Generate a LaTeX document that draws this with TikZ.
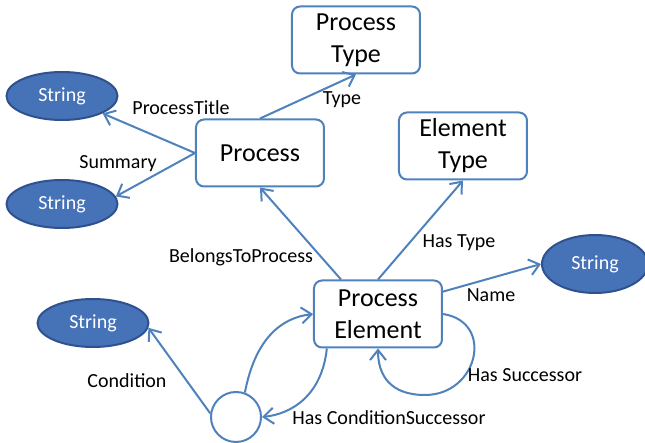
\documentclass[tikz,border=0pt]{standalone}
\usepackage{fontspec}
\setmainfont{Carlito}
\usetikzlibrary{arrows.meta,shapes.geometric}
\definecolor{linkblue}{RGB}{79,129,189}
\definecolor{strfill}{RGB}{70,114,184}
\definecolor{strdraw}{RGB}{47,82,143}

\begin{document}
\begin{tikzpicture}[x=0.5pt, y=-0.5pt, line width=1pt,
   arr/.style={draw=linkblue, -{Straight Barb[length=5pt,width=8pt]}},
   cls/.style={draw=linkblue, rounded corners=4pt, align=center, minimum width=64pt, minimum height=33.5pt, inner sep=1pt, font=\fontsize{13}{16}\selectfont},
   lit/.style={ellipse, draw=strdraw, fill=strfill, text=white, minimum width=55.5pt, minimum height=24pt, inner sep=0pt, font=\fontsize{10}{12}\selectfont},
   lbl/.style={font=\fontsize{10}{12}\selectfont, inner sep=1pt}]
   \useasboundingbox (0,0) rectangle (645,443);
   \node[cls] (ptype) at (356,40) {Process\\Type};
   \node[cls] (etype) at (463,146) {Element\\Type};
   \node[cls] (proc) at (260,153) {Process};
   \node[cls] (pe) at (378,314) {Process\\Element};
   \node[lit] (str1) at (62,96) {String};
   \node[lit] (str2) at (62,204) {String};
   \node[lit, minimum width=53pt, minimum height=29pt] (str3) at (595,264) {String};
   \node[lit] (str4) at (93,323) {String};
   \node[circle, draw=linkblue, minimum size=25pt, inner sep=0pt] (cond) at (236,417) {};
   \draw[arr] (proc.north) -- (ptype.south);
   \draw[arr] (proc.west) -- (str1);
   \draw[arr] (proc.west) -- (str2.8);
   \draw[arr] (pe.137) -- (proc.south);
   \draw[arr] (pe.north) -- (etype.south);
   \draw[arr] (pe.19) -- (str3.west);
   \draw[arr] (pe.east) .. controls (495,322) and (478,395) .. (425,395) .. controls (390,395) and (378,375) .. (pe.south);
   \draw[arr] (pe.-146) .. controls (322,395) and (292,414) .. (cond.east);
   \draw[arr] (cond.70) .. controls (255,340) and (280,318) .. (pe.west);
   \draw[arr] (cond.172) -- (str4.-5);
   \node[lbl] (l-title) at (181,108) {ProcessTitle};
   \node[lbl] (l-summary) at (118,164) {Summary};
   \node[lbl] (l-type) at (342,100) {Type};
   \node[lbl] (l-belongs) at (241,257) {BelongsToProcess};
   \node[lbl] (l-hastype) at (459,243) {Has Type};
   \node[lbl] (l-name) at (491,295) {Name};
   \node[lbl] (l-succ) at (525,375) {Has Successor};
   \node[lbl] (l-condsucc) at (389,418) {Has ConditionSuccessor};
   \node[lbl] (l-cond) at (127,381) {Condition};
\end{tikzpicture}
\end{document}
